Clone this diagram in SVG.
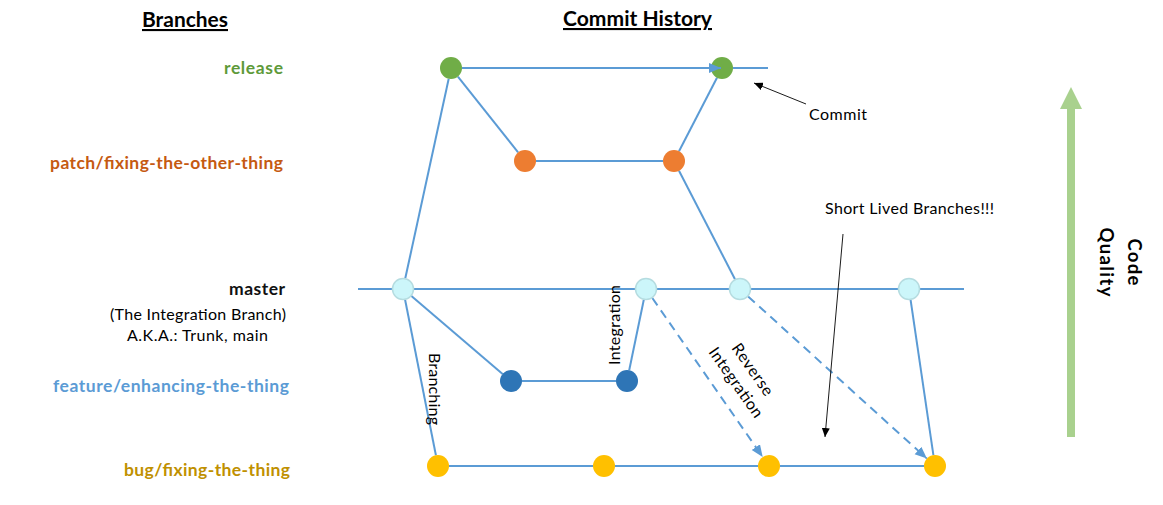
<svg xmlns="http://www.w3.org/2000/svg" width="1163" height="505" viewBox="0 0 1163 505">
<style>
.bg{fill:#ffffff}
.title{font-family:Lato,"Liberation Sans",sans-serif;font-weight:700;font-size:21px;fill:#000;text-decoration:underline}
.lbl{font-family:Lato,"Liberation Sans",sans-serif;font-weight:700;font-size:17.5px;text-anchor:end}
.note{font-family:Lato,"Liberation Sans",sans-serif;font-size:16px;fill:#000}
.conn{stroke:#5B9BD5;stroke-width:2;fill:none}
.dash{stroke:#5B9BD5;stroke-width:2;fill:none;stroke-dasharray:9,6}
.thin{stroke:#000;stroke-width:0.9;fill:none}
.rel{fill:#70AD47}
.pat{fill:#ED7D31}
.mst{fill:#CCF6FA;stroke:#B5DCE0;stroke-width:1.5}
.fea{fill:#2E75B6}
.bug{fill:#FFC000}
.cq{font-family:Lato,"Liberation Sans",sans-serif;font-weight:700;font-size:18.5px;fill:#000;text-anchor:middle}
</style>
<defs>
<marker id="blueArrow" markerUnits="userSpaceOnUse" markerWidth="13" markerHeight="11" refX="12" refY="5" orient="auto">
<path d="M0,0 L12,5 L0,10 Z" fill="#5B9BD5"/>
</marker>
<marker id="blackArrow" markerUnits="userSpaceOnUse" markerWidth="10" markerHeight="8" refX="9" refY="4" orient="auto">
<path d="M0,0 L9,4 L0,8 Z" fill="#000"/>
</marker>
</defs>
<rect class="bg" x="0" y="0" width="1163" height="505"/>

<g id="titles">
<text class="title" x="142" y="27" textLength="86" lengthAdjust="spacingAndGlyphs">Branches</text>
<text class="title" x="563" y="26" textLength="149" lengthAdjust="spacingAndGlyphs">Commit History</text>
</g>

<g id="labels">
<text class="lbl" x="283" y="74" fill="#5E9A3A" textLength="59">release</text>
<text class="lbl" x="283" y="169" fill="#C55A11" textLength="233">patch/fixing-the-other-thing</text>
<text class="lbl" x="285" y="295" fill="#111" textLength="56">master</text>
<text class="note" x="110" y="320" textLength="176">(The Integration Branch)</text>
<text class="note" x="127" y="341" textLength="141">A.K.A.:  Trunk, main</text>
<text class="lbl" x="289" y="392" fill="#5B9BD5" textLength="236">feature/enhancing-the-thing</text>
<text class="lbl" x="290" y="476" fill="#BF9000" textLength="166">bug/fixing-the-thing</text>
</g>

<g id="connectors">
<line class="conn" x1="358" y1="289" x2="392" y2="289"/>
<line class="conn" x1="414" y1="289" x2="635" y2="289"/>
<line class="conn" x1="657" y1="289" x2="729" y2="289"/>
<line class="conn" x1="751" y1="289" x2="898" y2="289"/>
<line class="conn" x1="920" y1="289" x2="964" y2="289"/>
<line class="conn" x1="462" y1="68" x2="711" y2="68"/>
<line class="conn" x1="733" y1="68" x2="768" y2="68"/>
<line class="conn" x1="536" y1="161" x2="663" y2="161"/>
<line class="conn" x1="522" y1="381" x2="616" y2="381"/>
<line class="conn" x1="449" y1="466" x2="593" y2="466"/>
<line class="conn" x1="615" y1="466" x2="758" y2="466"/>
<line class="conn" x1="780" y1="466" x2="924" y2="466"/>
<line class="conn" x1="405.3" y1="278.3" x2="448.7" y2="78.7"/>
<line class="conn" x1="457.9" y1="76.6" x2="518.1" y2="152.4"/>
<line class="conn" x1="679" y1="151.2" x2="717" y2="77.8"/>
<line class="conn" x1="679" y1="170.8" x2="735" y2="279.2"/>
<line class="conn" x1="411.4" y1="296.1" x2="502.6" y2="373.9"/>
<line class="conn" x1="405.1" y1="299.8" x2="435.9" y2="455.2"/>
<line class="conn" x1="629.2" y1="370.2" x2="643.8" y2="299.8"/>
<line class="dash" x1="652.3" y1="298" x2="762.7" y2="457" marker-end="url(#blueArrow)"/>
<line class="dash" x1="748.1" y1="296.4" x2="926.9" y2="458.6" marker-end="url(#blueArrow)"/>
<line class="conn" x1="910.6" y1="299.9" x2="933.4" y2="455.1"/>
<line class="thin" x1="806" y1="104" x2="754" y2="83" marker-end="url(#blackArrow)"/>
<line class="thin" x1="843" y1="234" x2="825" y2="437" marker-end="url(#blackArrow)"/>
</g>

<g id="node-release-1"><circle class="rel" cx="451" cy="68" r="11"/></g>
<g id="node-release-2"><circle class="rel" cx="722" cy="68" r="11"/></g>
<g id="node-patch-1"><circle class="pat" cx="525" cy="161" r="11"/></g>
<g id="node-patch-2"><circle class="pat" cx="674" cy="161" r="11"/></g>
<g id="node-master-1"><circle class="mst" cx="403" cy="289" r="10.5"/></g>
<g id="node-master-2"><circle class="mst" cx="646" cy="289" r="10.5"/></g>
<g id="node-master-3"><circle class="mst" cx="740" cy="289" r="10.5"/></g>
<g id="node-master-4"><circle class="mst" cx="909" cy="289" r="10.5"/></g>
<g id="node-feature-1"><circle class="fea" cx="511" cy="381" r="11"/></g>
<g id="node-feature-2"><circle class="fea" cx="627" cy="381" r="11"/></g>
<g id="node-bug-1"><circle class="bug" cx="438" cy="466" r="11"/></g>
<g id="node-bug-2"><circle class="bug" cx="604" cy="466" r="11"/></g>
<g id="node-bug-3"><circle class="bug" cx="769" cy="466" r="11"/></g>
<g id="node-bug-4"><circle class="bug" cx="935" cy="466" r="11"/></g>

<g id="release-arrow-head"><line class="conn" x1="708" y1="68" x2="721" y2="68" marker-end="url(#blueArrow)"/></g>

<g id="annotations">
<text class="note" x="809" y="120" textLength="58">Commit</text>
<text class="note" x="825" y="214" textLength="169">Short Lived Branches!!!</text>
<text class="note" transform="translate(429,353) rotate(90)" textLength="72">Branching</text>
<text class="note" transform="translate(620,365) rotate(-90)" textLength="80">Integration</text>
<text class="note" transform="translate(731,348) rotate(55)" textLength="60">Reverse</text>
<text class="note" transform="translate(708,352) rotate(55)" textLength="82">Integration</text>
</g>

<g id="quality">
<path d="M1067,437 L1067,109 L1060,109 L1071,87 L1082,109 L1075,109 L1075,437 Z" fill="#A9D18E"/>
<text class="cq" transform="translate(1128,262) rotate(90)" textLength="47">Code</text>
<text class="cq" transform="translate(1100,262) rotate(90)" textLength="69">Quality</text>
</g>
</svg>
